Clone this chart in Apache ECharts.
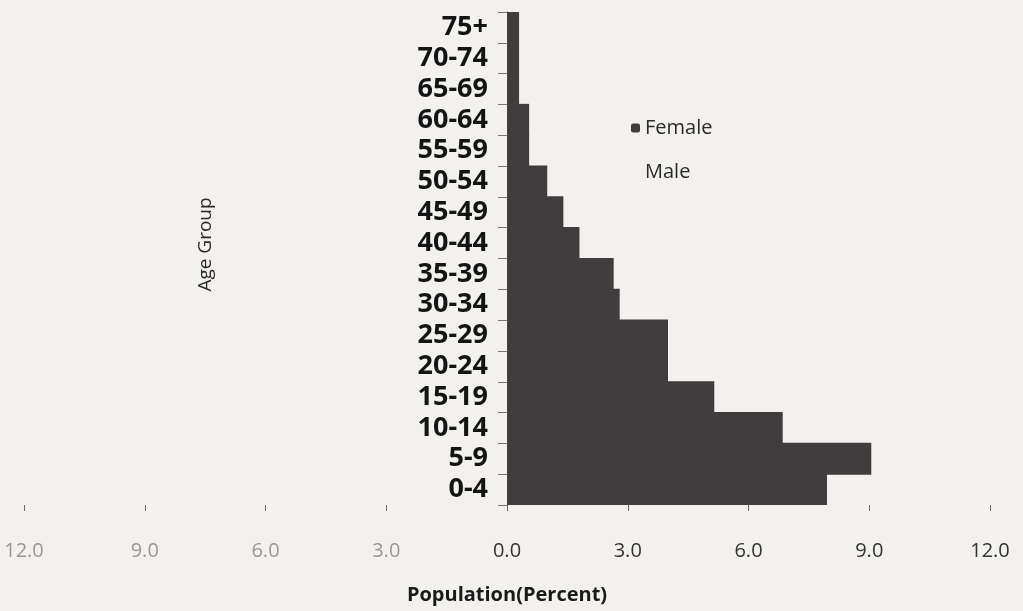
<!DOCTYPE html>
<html>
<head>
<meta charset="utf-8">
<script src="https://cdn.jsdelivr.net/npm/echarts@6/dist/echarts.min.js"></script>
<style>
  html, body { margin: 0; padding: 0; background: #f3f1ee; }
  #chart { width: 1023px; height: 611px; }
</style>
</head>
<body>
<div id="chart"></div>
<script>
// age groups, bottom to top
var ageGroups = ["0-4", "5-9", "10-14", "15-19", "20-24", "25-29", "30-34", "35-39",
  "40-44", "45-49", "50-54", "55-59", "60-64", "65-69", "70-74", "75+"]
// percent of population
var femaleData = [7.95, 9.05, 6.85, 5.15, 4.0, 4.0, 2.8, 2.65, 1.8, 1.4, 1.0, 0.55, 0.55, 0.3, 0.3, 0.3]
// male bars have no fill in the source picture, so they stay invisible (left side)
var maleData = [-8.2, -9.1, -7.0, -5.0, -3.8, -3.7, -2.7, -2.4, -1.8, -1.4, -1.0, -0.6, -0.5, -0.3, -0.2, -0.2]
var xTicks = [-12, -9, -6, -3, 0, 3, 6, 9, 12]

var paper = "#f3f1ee"
var gridLeft = 24, gridRight = 33
var chartWidth = 1023
var myChart = echarts.init(document.getElementById("chart"))
var option = {
  backgroundColor: paper,
  animation: false,
  grid: {
    left: gridLeft,
    right: gridRight,
    top: 12,
    bottom: 106,
    containLabel: false,
    outerBoundsMode: "none"
  },
  legend: {
    orient: "vertical",
    left: 626,
    top: 113,
    itemWidth: 9,
    itemHeight: 9,
    itemGap: 24,
    data: ["Female", "Male"],
    textStyle: {
      fontFamily: "Open Sans",
      fontSize: 20,
      color: "#2a2a2a"
    }
  },
  xAxis: {
    type: "value",
    min: xTicks[0],
    max: xTicks[xTicks.length - 1],
    interval: 3,
    name: "Population(Percent)",
    nameLocation: "middle",
    nameGap: 80,
    nameTextStyle: {
      fontFamily: "Open Sans",
      fontWeight: "bold",
      fontSize: 20,
      color: "#1a1a1a"
    },
    splitLine: { show: false },
    axisLine: { lineStyle: { color: "#555", width: 1.2 } },
    axisTick: { show: true, length: 6, lineStyle: { color: "#666" } },
    axisLabel: {
      margin: 36,
      formatter: function (v) {
        var s = Math.abs(v).toFixed(1)
        return v < 0 ? "{l|" + s + "}" : "{r|" + s + "}"
      },
      rich: {
        l: { fontFamily: "Open Sans", fontSize: 20, color: "#9a9894" },
        r: { fontFamily: "Open Sans", fontSize: 20, color: "#333" }
      }
    }
  },
  yAxis: {
    type: "category",
    data: ageGroups,
    z: 3,
    offset: -(chartWidth - gridLeft - gridRight) / 2,
    name: "Age Group",
    nameLocation: "middle",
    nameGap: 292,
    nameRotate: 90,
    nameTextStyle: {
      fontFamily: "Open Sans",
      fontSize: 19,
      color: "#2a2a2a",
      padding: [0, 0, 0, 28]
    },
    axisLine: { onZero: false, lineStyle: { color: "#444", width: 1 } },
    axisTick: { show: true, length: 9, lineStyle: { color: "#777" } },
    axisLabel: {
      interval: 0,
      margin: 19,
      fontFamily: "Noto Sans",
      fontWeight: "bold",
      fontSize: 27,
      color: "#141414"
    }
  },
  series: [
    {
      name: "Female",
      type: "bar",
      barWidth: 32,
      barGap: "-100%",
      itemStyle: { color: "#3f3d3d" },
      data: femaleData
    },
    {
      name: "Male",
      type: "bar",
      barWidth: 32,
      barGap: "-100%",
      itemStyle: { color: "rgba(0,0,0,0)" },
      data: maleData
    }
  ]
}
myChart.setOption(option)
</script>
</body>
</html>
